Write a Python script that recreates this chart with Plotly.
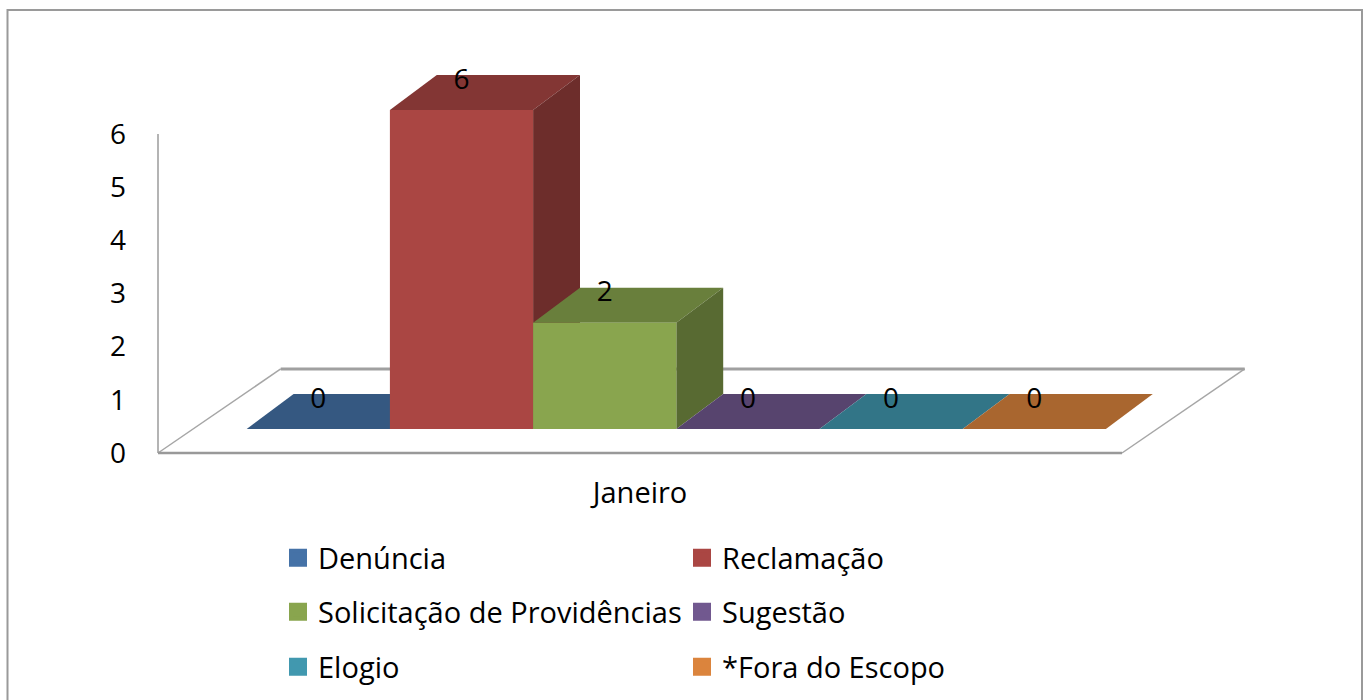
import plotly.graph_objects as go

# Data
category = "Janeiro"
series_names = ["Denúncia", "Reclamação", "Solicitação de Providências", "Sugestão", "Elogio", "*Fora do Escopo"]
series_values = [0, 6, 2, 0, 0, 0]
series_colors = ["#4572A7", "#AA4643", "#89A54E", "#71588F", "#4198AF", "#DB843D"]
y_ticks = [0, 1, 2, 3, 4, 5, 6]

W, H = 1367, 700
FONT = "Open Sans"
TEXT_SIZE = 29
DIGIT_SIZE = 28

# scale of the axes: the subplot fills the page so nothing is clipped
PX_PER_X = 143.2
PX_PER_Y = 53.17
X_ZERO_PX = 318.3    # page position of the first bar's centre
Y_ZERO_PX = 453.0    # page position of value 0
X_RANGE = [(0 - X_ZERO_PX) / PX_PER_X, (W - X_ZERO_PX) / PX_PER_X]
Y_RANGE = [(Y_ZERO_PX - H) / PX_PER_Y, Y_ZERO_PX / PX_PER_Y]

# projection of the pseudo-3D chart, in axis units
FLOOR_Y = 0.451     # front edge of the bars above the axis baseline
DEPTH_X = 0.3275    # bar depth
DEPTH_Y = 0.658
LABEL_GAP = 0.534
X_MIN = (158 - X_ZERO_PX) / PX_PER_X
X_MAX = (1122 - X_ZERO_PX) / PX_PER_X
FLOOR_BACK_X = 0.857
FLOOR_BACK_Y = 1.58


def shade(hex_color, k):
    r, g, b = (int(hex_color[i:i + 2], 16) for i in (1, 3, 5))
    return f"rgb({round(r * k)},{round(g * k)},{round(b * k)})"


def poly(xs, ys, color):
    return go.Scatter(x=xs + xs[:1], y=ys + ys[:1], mode="lines", fill="toself", fillcolor=color,
                      line=dict(width=0, color=color), cliponaxis=False, hoverinfo="skip", showlegend=False)


def stroke(xs, ys, color, width):
    return go.Scatter(x=xs, y=ys, mode="lines", line=dict(color=color, width=width),
                      cliponaxis=False, hoverinfo="skip", showlegend=False)


fig = go.Figure()

# wall and floor outline
fig.add_trace(stroke([X_MIN, X_MIN], [0, y_ticks[-1]], "#b4b4b4", 2))
fig.add_trace(stroke([X_MIN, X_MIN + FLOOR_BACK_X], [0, FLOOR_BACK_Y], "#a6a6a6", 1.5))
fig.add_trace(stroke([X_MAX, X_MAX + FLOOR_BACK_X], [0, FLOOR_BACK_Y], "#a6a6a6", 1.5))
fig.add_trace(stroke([X_MIN + FLOOR_BACK_X, X_MAX + FLOOR_BACK_X], [FLOOR_BACK_Y, FLOOR_BACK_Y], "#a0a0a0", 3))
fig.add_trace(stroke([X_MIN, X_MAX], [0, 0], "#999999", 2.5))

# bars: top, side and front faces, left to right
for i, (v, c) in enumerate(zip(series_values, series_colors)):
    l, r = i - 0.5, i + 0.5
    b, t = FLOOR_Y, FLOOR_Y + v
    fig.add_trace(poly([l, r, r + DEPTH_X, l + DEPTH_X], [t, t, t + DEPTH_Y, t + DEPTH_Y], shade(c, 0.77)))
    if v > 0:
        fig.add_trace(poly([r, r + DEPTH_X, r + DEPTH_X, r], [b, b + DEPTH_Y, t + DEPTH_Y, t], shade(c, 0.64)))
        fig.add_trace(poly([l, r, r, l], [b, b, t, t], c))

# data labels
fig.add_trace(go.Scatter(
    x=list(range(len(series_values))),
    y=[FLOOR_Y + v + LABEL_GAP for v in series_values],
    text=[str(v) for v in series_values],
    mode="text", textposition="middle center",
    textfont=dict(family=FONT, size=DIGIT_SIZE, color="black"),
    cliponaxis=False, hoverinfo="skip", showlegend=False))

# legend entries
legend_ids = ["legend", "legend", "legend2", "legend2", "legend3", "legend3"]
for name, c, lg in zip(series_names, series_colors, legend_ids):
    fig.add_trace(go.Scatter(x=[None], y=[None], mode="markers", name=name, legend=lg,
                             marker=dict(symbol="square", size=14, color=c, line=dict(width=4, color=c))))

legend_common = dict(orientation="h", x=278 / W, xanchor="left", yanchor="middle",
                     entrywidth=359, entrywidthmode="pixels", itemsizing="trace", itemclick=False,
                     itemdoubleclick=False, bgcolor="rgba(0,0,0,0)", borderwidth=0,
                     font=dict(family=FONT, size=TEXT_SIZE, color="black"))

fig.update_layout(
    width=W, height=H, margin=dict(l=0, r=0, t=0, b=0, pad=0, autoexpand=False), autosize=False,
    paper_bgcolor="white", plot_bgcolor="rgba(0,0,0,0)", showlegend=True,
    font=dict(family=FONT, color="black"),
    hovermode=False,
    xaxis=dict(domain=[0, 1], range=X_RANGE, showgrid=False, zeroline=False, showline=False,
               anchor="free", position=(H - Y_ZERO_PX) / H, side="bottom",
               tickmode="array", tickvals=[(X_MIN + X_MAX) / 2], ticktext=[category], ticks="",
               ticklabelstandoff=20, automargin=False,
               tickfont=dict(family=FONT, size=TEXT_SIZE, color="black")),
    yaxis=dict(domain=[0, 1], range=Y_RANGE, showgrid=False, zeroline=False, showline=False,
               anchor="free", position=158 / W, side="left",
               tickmode="array", tickvals=y_ticks, ticks="",
               ticklabelstandoff=32, automargin=False,
               tickfont=dict(family=FONT, size=DIGIT_SIZE, color="black")),
    legend=dict(y=1 - 558 / H, **legend_common),
    legend2=dict(y=1 - 612 / H, **legend_common),
    legend3=dict(y=1 - 667 / H, **legend_common),
    shapes=[dict(type="path", xref="paper", yref="paper",
                 path=f"M {7.5 / W} 0 L {7.5 / W} {1 - 10 / H} L {1362 / W} {1 - 10 / H} L {1362 / W} 0",
                 line=dict(color="#9a9a9a", width=2))],
)

fig.write_html("out.html", config=dict(displayModeBar=False),
               post_script="document.body.style.margin='0';document.body.style.overflow='hidden';")
